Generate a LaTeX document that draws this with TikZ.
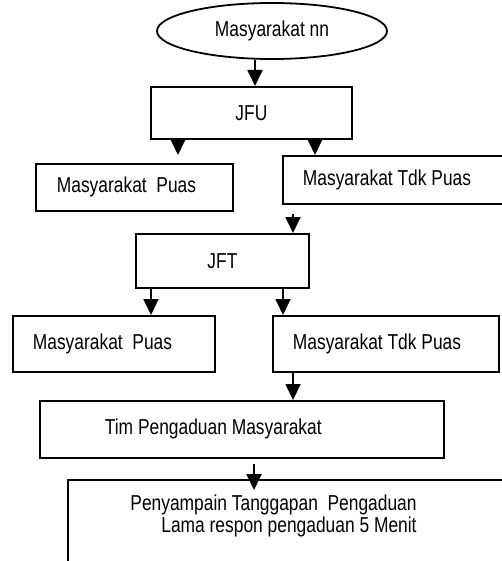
\documentclass[tikz,border=0pt]{standalone}
\usepackage{fontspec}
\setmainfont{Liberation Sans}[FakeStretch=0.805]
\usetikzlibrary{shapes.geometric,arrows.meta}

\begin{document}
\begin{tikzpicture}[
    x=0.5pt, y=-0.5pt,
    every node/.style = { font=\fontsize{10.8}{11}\selectfont },
    box/.style = { draw, line width=0.9pt, rectangle, anchor=north west, inner ysep=0pt },
    leftbox/.style = { box, align=flush left },
    arrow/.style = { line width=0.9pt, -{Triangle[width=7.5pt,length=8pt]} },
    ]

    % frame
    \useasboundingbox (0,0) rectangle (502,561);
    \clip (0,0) rectangle (502,561);

    % nodes
    \node[draw, line width=0.9pt, ellipse, minimum width=115pt, minimum height=28pt, inner sep=0pt] (start) at (272,31) {Masyarakat nn};
    \node[box, minimum width=100.5pt, minimum height=26pt] (jfu) at (150,86) {JFU};
    \node[leftbox, inner xsep=10.5pt, text width=77.5pt, minimum height=23.5pt] (puasA) at (35,163) {Masyarakat\ \ Puas};
    \node[leftbox, inner xsep=10pt, text width=94pt, minimum height=24pt] (tdkA) at (282,155) {Masyarakat Tdk Puas};
    \node[box, minimum width=86.5pt, minimum height=27pt] (jft) at (135,233) {JFT};
    \node[leftbox, inner xsep=10pt, text width=81pt, minimum height=28pt] (puasB) at (12,315) {Masyarakat\ \ Puas};
    \node[leftbox, inner xsep=10pt, text width=93pt, minimum height=28pt] (tdkB) at (272,315) {Masyarakat Tdk Puas};
    \node[leftbox, inner xsep=32.5pt, text width=137pt, minimum height=28.5pt] (tim) at (39,400) {Tim Pengaduan Masyarakat};

    % open box at the bottom
    \coordinate (corner) at (68,480);
    \draw[line width=0.9pt] (68,570) -- (corner) -- (512,480);
    \node[align=flush right, anchor=east, inner sep=0pt] (respon) at (417,516) {Penyampain Tanggapan\ \ Pengaduan\\ Lama respon pengaduan 5 Menit};

    % arrow columns
    \coordinate (xa) at (255,0);
    \coordinate (xb) at (178,0);
    \coordinate (xc) at (315,0);
    \coordinate (xd) at (293,0);
    \coordinate (xe) at (151,0);
    \coordinate (xf) at (283,0);
    \coordinate (xg) at (254,0);

    \draw[arrow] (xa |- start.south) -- (xa |- jfu.north);
    \draw[arrow, shorten >=4pt] (xb |- jfu.south) -- (xb |- puasA.north);
    \draw[arrow] (xc |- jfu.south) -- (xc |- tdkA.north);
    \draw[arrow, shorten <=4.5pt] (xd |- tdkA.south) -- (xd |- jft.north);
    \draw[arrow] (xe |- jft.south) -- (xe |- puasB.north);
    \draw[arrow] (xf |- jft.south) -- (xf |- tdkB.north);
    \draw[arrow] (xd |- tdkB.south) -- (xd |- tim.north);
    \draw[arrow, shorten <=2.5pt, shorten >=-5pt] (xg |- tim.south) -- (xg |- corner);

  \end{tikzpicture}
\end{document}
